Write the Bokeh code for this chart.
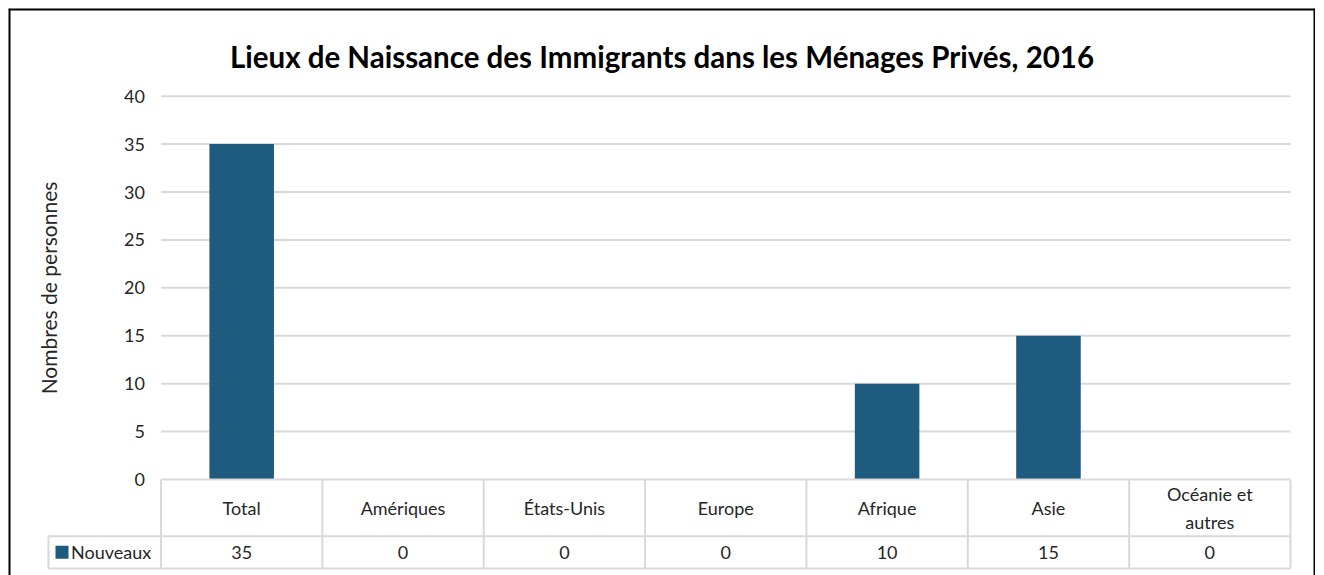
from bokeh.plotting import figure
from bokeh.models import LinearAxis, FixedTicker, ColumnDataSource
from bokeh.embed import file_html
from bokeh.resources import INLINE
from bokeh.core.properties import value

# ---- data ----
title_text = "Lieux de Naissance des Immigrants dans les Ménages Privés, 2016"
categories = ["Total", "Amériques", "États-Unis", "Europe", "Afrique", "Asie", "Océanie et\nautres"]
series_name = "Nouveaux"
values = [35, 0, 0, 0, 10, 15, 0]
y_ticks = [0, 5, 10, 15, 20, 25, 30, 35, 40]
y_label = "Nombres de personnes"

# ---- layout (frame pixels) ----
MARGIN = 8
FW, FH = 1307, 567                    # framed area
left_px, right_px = 152.5, 1282.0     # plot area horizontal extent
top_px, zero_px = 87.7, 471.0         # y = max tick, y = 0
row1_px, row2_px = 527.7, 560.0       # table row bottoms
legend_left_px = 40.0

n = len(categories)
ymax = y_ticks[-1]
sx = (right_px - left_px) / n
sy = (zero_px - top_px) / ymax
x_start = -left_px / sx
x_end = n + (FW - right_px) / sx
y_end = ymax + top_px / sy
y_start = -(FH - zero_px) / sy


def dx(px):
    return x_start + px / sx


def dy(py):
    return y_end - py / sy


FONT = value("Lato")
TXT = "#262626"
GRID = "#d9d9d9"
BAR = "#1e5b7f"

p = figure(width=FW + MARGIN, height=FH + MARGIN, x_range=(x_start, x_end), y_range=(y_start, y_end),
           x_axis_type=None, y_axis_type=None, toolbar_location=None,
           output_backend="svg", min_border=0, min_border_left=MARGIN, min_border_top=MARGIN)
p.outline_line_color = None
p.background_fill_color = "white"
p.border_fill_color = "white"

# outer chart border (left, top, right; bottom is cut off in the original)
p.segment(x0=[x_start, x_start, x_end], x1=[x_start, x_end, x_end],
          y0=[y_start, y_end, y_start], y1=[y_end, y_end, y_end],
          line_color="black", line_width=4)

# y axis at category boundary 0
yaxis = LinearAxis(ticker=FixedTicker(ticks=y_ticks), fixed_location=0, bounds=(0, ymax))
yaxis.axis_line_color = None
yaxis.major_tick_line_color = None
yaxis.minor_tick_line_color = None
yaxis.major_label_standoff = 10
yaxis.major_label_text_font = "Lato"
yaxis.major_label_text_font_size = "18px"
yaxis.major_label_text_color = TXT
yaxis.axis_label = y_label
yaxis.axis_label_text_font = "Lato"
yaxis.axis_label_text_font_size = "21px"
yaxis.axis_label_text_font_style = "normal"
yaxis.axis_label_text_color = TXT
yaxis.axis_label_standoff = 61
p.add_layout(yaxis, "left")

# gridlines
gl = [t for t in y_ticks if t > 0]
p.segment(x0=[0] * len(gl), x1=[n] * len(gl), y0=gl, y1=gl, line_color=GRID, line_width=2)

# bars
centers = [i + 0.5 for i in range(n)]
src = ColumnDataSource(dict(x=centers, top=values, cat=categories, val=[str(v) for v in values]))
p.vbar(x="x", top="top", width=0.4, source=src, fill_color=BAR, line_color=None)

# table lines
r1 = dy(row1_px)
r2 = dy(row2_px)
lx = dx(legend_left_px)
hx0 = [0, lx, lx]
hx1 = [n, n, n]
hy = [0, r1, r2]
p.segment(x0=hx0, x1=hx1, y0=hy, y1=hy, line_color=GRID, line_width=2)
vx = list(range(n + 1)) + [lx]
vy0 = [0] * (n + 1) + [r1]
vy1 = [r2] * (n + 2)
p.segment(x0=vx, x1=vx, y0=vy0, y1=vy1, line_color=GRID, line_width=2)

# table texts
p.text(x="x", y=(0 + r1) / 2, text="cat", source=src, text_font=FONT, text_font_size="18px",
       text_color=TXT, text_align="center", text_baseline="middle", text_line_height=1.25)
p.text(x="x", y=(r1 + r2) / 2, text="val", source=src, text_font=FONT, text_font_size="18px",
       text_color=TXT, text_align="center", text_baseline="middle")

# legend cell
p.scatter(x=[dx(53.5)], y=[(r1 + r2) / 2], marker="square", size=13, fill_color=BAR, line_color=None)
p.text(x=[dx(62.5)], y=[(r1 + r2) / 2], text=[series_name], text_font=FONT, text_font_size="18px",
       text_color=TXT, text_align="left", text_baseline="middle")

# title
p.text(x=[(x_start + x_end) / 2], y=[dy(48)], text=[title_text], text_font=FONT,
       text_font_size="29.5px", text_font_style="bold", text_color="black",
       text_align="center", text_baseline="alphabetic")

open("out.html", "w").write(file_html(p, INLINE))
